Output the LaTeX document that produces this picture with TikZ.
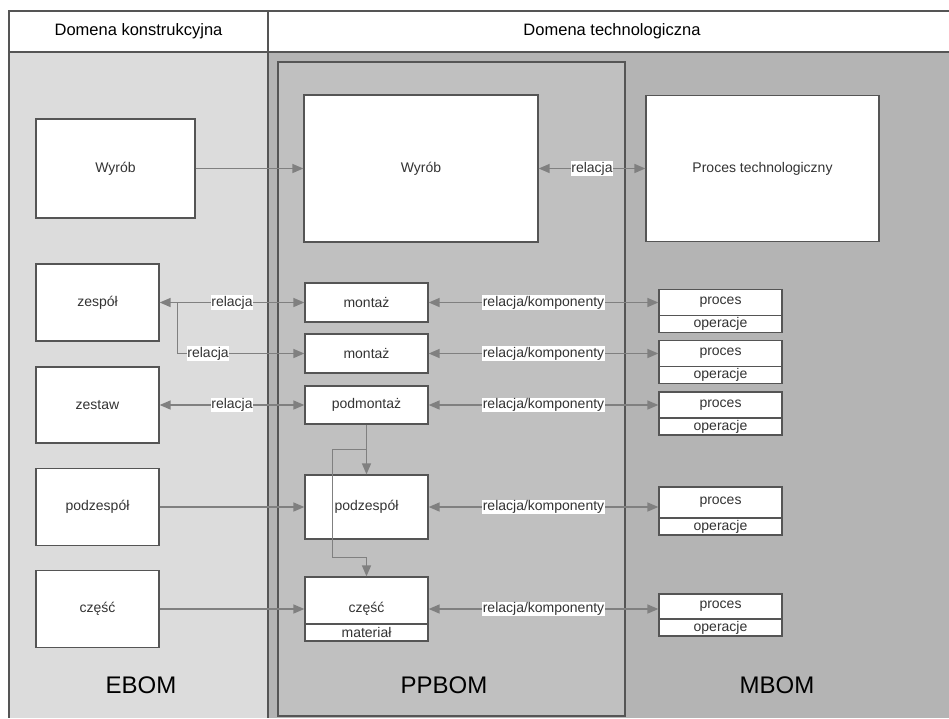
\documentclass[tikz,border=0pt]{standalone}
\usepackage{fontspec}
\setmainfont{Liberation Sans}
\usetikzlibrary{arrows.meta,positioning,calc}
\definecolor{ebomgray}{HTML}{DCDCDC}
\definecolor{mbomgray}{HTML}{B4B4B4}
\definecolor{ppbomgray}{HTML}{C0C0C0}
\definecolor{linegray}{HTML}{555555}
\definecolor{arrowgray}{HTML}{808080}
\definecolor{textgray}{HTML}{333333}

\begin{document}
\begin{tikzpicture}[x=1pt,y=-1pt] % BOM
\tikzstyle{mybox} = [draw=linegray, line width=1.3pt, fill=white, text=textgray, font=\fontsize{14}{16}\selectfont, inner sep=0pt, minimum width=123pt] % prostokat
\tikzstyle{mysub} = [mybox, minimum height=17pt] % dolna komorka
\tikzstyle{myarrow} = [draw=arrowgray, line width=1.5pt, >={Triangle[length=11pt,width=9pt]}, ->] % strzalka
\tikzstyle{mytwoway} = [myarrow, <->] % strzalka w obie strony
\tikzstyle{mylabel} = [fill=white, inner sep=0.5pt, text=textgray, font=\fontsize{14}{16}\selectfont] % etykieta relacji
\tikzstyle{myhead} = [text=black, font=\fontsize{16.5}{19}\selectfont] % naglowek
\tikzstyle{mybom} = [text=black, font=\fontsize{24}{28}\selectfont] % nazwa BOM

\useasboundingbox (0,0) rectangle (949,718);
% tlo
\fill[ebomgray] (9,52) rectangle (268,718);
\fill[mbomgray] (268,52) rectangle (949,718);
\fill[white] (9,11) rectangle (949,52);
\draw[linegray, line width=1.3pt] (949,11) -- (9,11) -- (9,718);
\draw[linegray, line width=2pt] (9,52) -- (949,52);
\draw[linegray, line width=1.3pt] (268,11) -- (268,718);
\draw[linegray, line width=1.3pt, fill=ppbomgray] (278,62) rectangle (625,716);

\node[myhead] (hkon) at (138.5,31) {Domena konstrukcyjna};
\node[myhead] (htech) at (612,31) {Domena technologiczna};
\node[mybom] (ebom) at (141,685) {EBOM};
\node[mybom] (ppbom) at (444,685) {PPBOM};
\node[mybom] (mbom) at (777,685) {MBOM};

% EBOM
\node[mybox, minimum width=159pt, minimum height=99pt] (ewyrob) at (115.5,168.5) {Wyrób};
\node[mybox, minimum height=77pt] (ezespol) at (97.5,302.5) {zespół};
\node[mybox, minimum height=76pt] (ezestaw) at (97.5,405) {zestaw};
\node[mybox, minimum height=77pt] (epodzespol) at (97.5,507) {podzespół};
\node[mybox, minimum height=77pt] (eczesc) at (97.5,609) {część};

% PPBOM
\node[mybox, minimum width=234pt, minimum height=147pt] (pwyrob) at (421,168.5) {Wyrób};
\node[mybox, minimum height=39pt] (pmontaz1) at (366.5,302.5) {montaż};
\node[mybox, minimum height=39pt] (pmontaz2) at (366.5,353.5) {montaż};
\node[mybox, minimum height=38pt] (ppodmontaz) at (366.5,405) {podmontaż};
\node[mybox, minimum height=64pt] (ppodzespol) at (366.5,507) {podzespół};
\node[mybox, minimum height=64pt] (pczesc) at (366.5,609) {część};
\node[mysub, anchor=south] (pmaterial) at (pczesc.south) {materiał};

% MBOM
\node[mybox, minimum width=233pt, minimum height=146pt] (mproces) at (762.5,168.5) {Proces technologiczny};
\node[mybox, minimum height=26pt] (mproc1) at (720.5,302.5) {proces};
\node[mysub, below=-1.3pt of mproc1] (mop1) {operacje};
\node[mybox, minimum height=26pt] (mproc2) at (720.5,353.5) {proces};
\node[mysub, below=-1.3pt of mproc2] (mop2) {operacje};
\node[mybox, minimum height=26pt] (mproc3) at (720.5,405) {proces};
\node[mysub, below=-1.3pt of mproc3] (mop3) {operacje};
\node[mybox, minimum height=31pt] (mproc4) at (720.5,502.5) {proces};
\node[mysub, below=-1.3pt of mproc4] (mop4) {operacje};
\node[mybox, minimum height=25pt] (mproc5) at (720.5,606.5) {proces};
\node[mysub, below=-1.3pt of mproc5] (mop5) {operacje};

% relacje EBOM - PPBOM
\draw[myarrow] (ewyrob) -- (pwyrob);
\draw[mytwoway] (ezespol) -- node[mylabel] {relacja} (pmontaz1);
\coordinate (rozg1) at ($(ezespol.east)+(18,0)$);
\draw[myarrow] (rozg1) |- node[mylabel, pos=0.62] {relacja} (pmontaz2.west);
\draw[mytwoway] (ezestaw) -- node[mylabel] {relacja} (ppodmontaz);
\draw[myarrow] (epodzespol) -- (ppodzespol);
\draw[myarrow] (eczesc) -- (pczesc);

% wewnatrz PPBOM
\draw[myarrow] (ppodmontaz) -- (ppodzespol);
\coordinate (rozg2) at ($(ppodmontaz.south)+(0,25)$);
\draw[myarrow] (rozg2) -- ++(-34,0) |- ($(pczesc.north)+(0,-19)$) -- (pczesc.north);

% relacje PPBOM - MBOM
\draw[mytwoway] (pwyrob) -- node[mylabel] {relacja} (mproces);
\draw[mytwoway] (pmontaz1) -- node[mylabel] {relacja/komponenty} (mproc1);
\draw[mytwoway] (pmontaz2) -- node[mylabel] {relacja/komponenty} (mproc2);
\draw[mytwoway] (ppodmontaz) -- node[mylabel] {relacja/komponenty} (mproc3);
\draw[mytwoway] (ppodzespol) -- node[mylabel] {relacja/komponenty} (ppodzespol -| mproc4.west);
\draw[mytwoway] (pczesc) -- node[mylabel] {relacja/komponenty} (pczesc -| mproc5.west);
\end{tikzpicture}
\end{document}
